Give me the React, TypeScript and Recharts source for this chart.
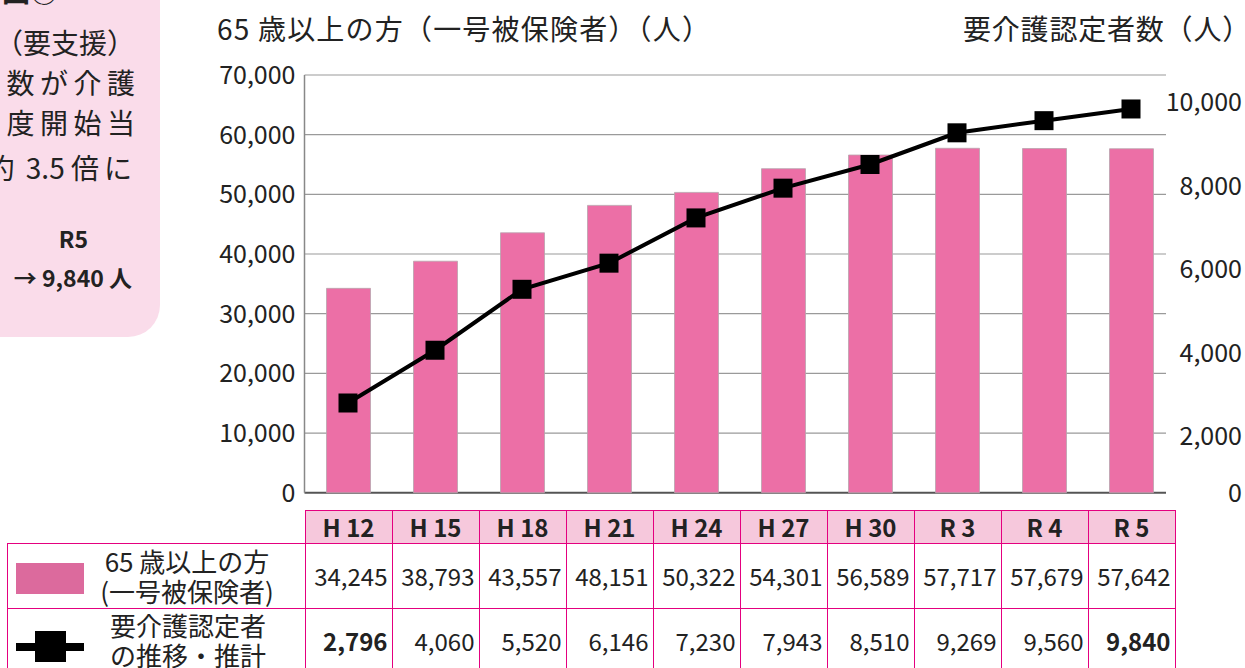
import React from 'react';
import { ComposedChart, Bar, Line, XAxis, YAxis, CartesianGrid } from 'recharts';

const categories = ['H 12', 'H 15', 'H 18', 'H 21', 'H 24', 'H 27', 'H 30', 'R 3', 'R 4', 'R 5'];
const elderly = [34245, 38793, 43557, 48151, 50322, 54301, 56589, 57717, 57679, 57642];
const certified = [2796, 4060, 5520, 6146, 7230, 7943, 8510, 9269, 9560, 9840];
const boldCertified = [true, false, false, false, false, false, false, false, false, true];
const leftTicks = [0, 10000, 20000, 30000, 40000, 50000, 60000, 70000];
const RIGHT_MIN = 647;
const RIGHT_MAX = 10654;
const rightTicks = [RIGHT_MIN, 2000, 4000, 6000, 8000, 10000];

const data = categories.map((c, i) => ({ cat: c, elderly: elderly[i], certified: certified[i] }));

const FONT = '"Noto Sans CJK JP", "Noto Sans", sans-serif';
const PINK_BAR = '#EC6FA6';
const PINK_SWATCH = '#DC6A9D';
const PINK_HEAD = '#F6C8DC';
const PINK_BORDER = '#E4007F';
const TEXT = '#222';

const CHART_H = 668;
const MARGIN_BOTTOM = 175.3;
const PLOT_BOTTOM = CHART_H - MARGIN_BOTTOM;
const GRID_END_INSET = 8.5;

const fmt = (v: number) => v.toLocaleString('en-US');

const SquareDot = (props: any) => {
  const { cx, cy, index } = props;
  if (cx == null || cy == null) return <g key={`d${index}`} />;
  return <rect key={`d${index}`} x={cx - 9.5} y={cy - 9.5} width={19} height={19} fill="#000" />;
};

const GridLine = (props: any) => {
  const { x1, x2, y1, y2, index } = props;
  const isBase = Math.abs(y1 - PLOT_BOTTOM) < 1;
  return (
    <line
      key={`g${index}-${y1}`}
      x1={x1}
      x2={x2 - GRID_END_INSET}
      y1={y1}
      y2={y2}
      stroke={isBase ? '#555' : '#9a9a9a'}
      strokeWidth={isBase ? 2 : 1.2}
      fill="none"
    />
  );
};

export default function App() {
  const cellBorder = `1.5px solid ${PINK_BORDER}`;
  const noteLine = (y: number, content: React.ReactNode, ls: number, key: string) => (
    <div
      key={key}
      style={{
        position: 'absolute',
        right: 1245 - 135 - ls,
        top: y - 19,
        fontSize: 28,
        lineHeight: '38px',
        letterSpacing: ls,
        whiteSpace: 'nowrap',
        textAlign: 'right',
      }}
    >
      {content}
    </div>
  );
  return (
    <div
      style={{
        position: 'absolute',
        left: 0,
        top: 0,
        width: 1245,
        height: 668,
        overflow: 'hidden',
        background: '#fff',
        fontFamily: FONT,
        color: TEXT,
      }}
    >
      {/* left pink note box */}
      <div
        style={{
          position: 'absolute',
          left: 0,
          top: 0,
          width: 160,
          height: 337,
          background: '#FADCEA',
          borderBottomRightRadius: 32,
        }}
      />
      <div style={{ position: 'absolute', left: 2, top: -28, fontSize: 28, fontWeight: 700, lineHeight: '36px', whiteSpace: 'nowrap' }}>図②</div>
      {noteLine(42, '（要支援）', 0, 'l1')}
      {noteLine(82, '数が介護', 5.5, 'l2')}
      {noteLine(122, '度開始当', 5.5, 'l3')}
      {noteLine(
        167,
        <>
          <span style={{ letterSpacing: 5 }}>約</span>
          <span style={{ letterSpacing: 0 }}> 3.5 </span>
          <span style={{ letterSpacing: 5 }}>倍に</span>
        </>,
        2,
        'l4'
      )}
      <div style={{ position: 'absolute', left: 40, width: 67, top: 238 - 16, fontSize: 23, fontWeight: 700, lineHeight: '32px', textAlign: 'center' }}>R5</div>
      <div style={{ position: 'absolute', right: 1245 - 132, top: 277 - 16, fontSize: 23, fontWeight: 700, lineHeight: '32px', whiteSpace: 'nowrap' }}>→ 9,840 人</div>

      {/* titles */}
      <div style={{ position: 'absolute', left: 217, top: 28 - 19, fontSize: 28, lineHeight: '38px', letterSpacing: 1.2, whiteSpace: 'nowrap' }}>
        65 歳以上の方（一号被保険者）（人）
      </div>
      <div style={{ position: 'absolute', left: 963, top: 28 - 19, fontSize: 28, lineHeight: '38px', letterSpacing: 0.8, whiteSpace: 'nowrap' }}>
        要介護認定者数（人）
      </div>

      <div style={{ position: 'absolute', left: 0, top: 0 }}>
        <ComposedChart
          width={1245}
          height={CHART_H}
          data={data}
          margin={{ top: 75, right: 0, bottom: MARGIN_BOTTOM, left: 0 }}
          style={{ fontFamily: FONT }}
        >
          <CartesianGrid yAxisId="left" vertical={false} horizontal={GridLine} />
          <XAxis dataKey="cat" height={0} tick={false} tickLine={false} axisLine={false} />
          <YAxis
            yAxisId="left"
            width={304.5}
            domain={[0, 70000]}
            ticks={leftTicks}
            interval={0}
            tickSize={0}
            tickMargin={9}
            tickFormatter={fmt}
            tick={{ fill: TEXT, fontSize: 25 }}
            axisLine={{ stroke: '#888', strokeWidth: 1.5 }}
            tickLine={false}
          />
          <YAxis
            yAxisId="right"
            orientation="right"
            width={70.5}
            domain={[RIGHT_MIN, RIGHT_MAX]}
            ticks={rightTicks}
            interval={0}
            allowDataOverflow
            tickSize={0}
            tickMargin={67.5}
            tickFormatter={(v: number) => (v === RIGHT_MIN ? '0' : fmt(v))}
            tick={{ fill: TEXT, fontSize: 25, textAnchor: 'end' }}
            axisLine={false}
            tickLine={false}
          />
          <Bar
            yAxisId="left"
            dataKey="elderly"
            barSize={44}
            fill={PINK_BAR}
            stroke="#b9a3ad"
            strokeWidth={0.8}
            isAnimationActive={false}
          />
          <Line
            yAxisId="right"
            dataKey="certified"
            stroke="#000"
            strokeWidth={4}
            dot={SquareDot}
            activeDot={false}
            isAnimationActive={false}
          />
        </ComposedChart>
      </div>

      {/* data table */}
      <table
        style={{
          position: 'absolute',
          left: 7,
          top: 510,
          borderCollapse: 'collapse',
          tableLayout: 'fixed',
          width: 297.5 + 87 * categories.length,
          fontFamily: FONT,
          color: TEXT,
        }}
      >
        <colgroup>
          <col style={{ width: 297.5 }} />
          {categories.map((c) => (
            <col key={c} style={{ width: 87 }} />
          ))}
        </colgroup>
        <tbody>
          <tr style={{ height: 33 }}>
            <td style={{ border: 'none', padding: 0 }} />
            {categories.map((c) => (
              <td
                key={c}
                style={{
                  border: cellBorder,
                  background: PINK_HEAD,
                  textAlign: 'center',
                  fontWeight: 700,
                  fontSize: 24,
                  padding: 0,
                  lineHeight: '30px',
                  whiteSpace: 'pre',
                }}
              >
                {c}
              </td>
            ))}
          </tr>
          <tr style={{ height: 65 }}>
            <td style={{ border: cellBorder, padding: 0, position: 'relative' }}>
              <div style={{ position: 'absolute', left: 8, top: 19, width: 68, height: 31, background: PINK_SWATCH }} />
              <div
                style={{
                  position: 'absolute',
                  left: 80,
                  width: 198,
                  top: 2,
                  textAlign: 'center',
                  fontSize: 26,
                  lineHeight: '30px',
                  whiteSpace: 'nowrap',
                }}
              >
                <div>65 歳以上の方</div>
                <div>(一号被保険者)</div>
              </div>
            </td>
            {elderly.map((v, i) => (
              <td key={i} style={{ border: cellBorder, textAlign: 'right', padding: '0 4px 0 0', fontSize: 24, lineHeight: '30px' }}>
                {fmt(v)}
              </td>
            ))}
          </tr>
          <tr style={{ height: 64 }}>
            <td style={{ border: cellBorder, padding: 0, position: 'relative' }}>
              <div style={{ position: 'absolute', left: 8, top: 34, width: 68, height: 8, background: '#000' }} />
              <div style={{ position: 'absolute', left: 27, top: 22, width: 31, height: 31, background: '#000' }} />
              <div
                style={{
                  position: 'absolute',
                  left: 80,
                  width: 200,
                  top: 1,
                  textAlign: 'center',
                  fontSize: 26,
                  lineHeight: '30px',
                  whiteSpace: 'nowrap',
                }}
              >
                <div>要介護認定者</div>
                <div>の推移・推計</div>
              </div>
            </td>
            {certified.map((v, i) => (
              <td
                key={i}
                style={{
                  border: cellBorder,
                  textAlign: 'right',
                  padding: '0 4px 0 0',
                  fontSize: 24,
                  lineHeight: '30px',
                  fontWeight: boldCertified[i] ? 700 : 400,
                }}
              >
                {fmt(v)}
              </td>
            ))}
          </tr>
        </tbody>
      </table>
    </div>
  );
}
